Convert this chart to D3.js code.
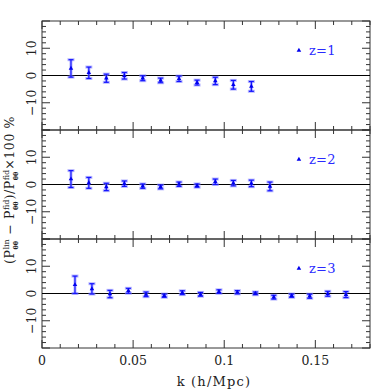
<!DOCTYPE html>
<html><head><meta charset="utf-8">
<script src="https://cdn.jsdelivr.net/npm/d3@7"></script>
<style>body{margin:0;background:#fff}svg{display:block}</style>
</head><body><svg id="c" width="390" height="390"></svg>
<script>
const xTicks = [0, 0.05, 0.1, 0.15];
const xTickLabels = ["0", "0.05", "0.1", "0.15"];
const yTicks = [-10, 0, 10];
const yTickLabels = ["\u221210", "0", "10"];
const panelLabels = ["z=1", "z=2", "z=3"];

const k1 = [0.0159,0.0257,0.0353,0.0452,0.0553,0.0651,0.0752,0.0851,0.0951,0.1050,0.1149];
const v1 = [2.6,1.0,-1.0,-0.1,-1.0,-1.8,-1.2,-2.6,-2.0,-3.4,-4.0];
const e1 = [3.2,2.1,1.5,1.2,0.9,0.85,1.0,0.9,1.35,1.6,1.8];

const k2 = [0.0159,0.0257,0.0353,0.0452,0.0553,0.0651,0.0752,0.0851,0.0951,0.1050,0.1149,0.1251];
const v2 = [2.0,0.6,-0.9,0.3,-0.6,-0.9,0.1,-0.4,1.0,0.5,0.4,-0.7];
const e2 = [3.1,2.0,1.35,1.0,0.8,0.7,0.8,0.6,1.0,1.0,1.2,1.6];

const k3 = [0.0181,0.0274,0.0373,0.0474,0.0571,0.0671,0.0770,0.0870,0.0971,0.1072,0.1171,0.1272,0.1370,0.1469,0.1568,0.1668];
const v3 = [3.2,1.7,-0.2,1.0,-0.3,-0.8,0.3,-0.3,0.7,0.45,0.05,-1.35,-0.8,-1.0,-0.1,-0.4];
const e3 = [3.2,1.9,1.35,0.9,0.85,0.6,0.7,0.7,0.65,0.6,0.5,0.7,0.6,0.75,0.9,1.1];

const series = [[k1,v1,e1],[k2,v2,e2],[k3,v3,e3]];

const svg = d3.select("#c");
const L = 42, R = 370, T = 21, PH = 109;
const FONT = "DejaVu Serif";
const x = d3.scaleLinear().domain([0, 0.18]).range([L, R]);
const axisCol = "#333";

series.forEach((s, p) => {
  const top = T + p * PH, bot = top + PH;
  const y = d3.scaleLinear().domain([-20, 20]).range([bot, top]);
  const g = svg.append("g");
  g.append("rect").attr("x", L).attr("y", top).attr("width", R - L).attr("height", PH)
    .attr("fill", "none").attr("stroke", axisCol).attr("stroke-width", 1);
  const xt = d3.range(0, 0.1801, 0.01);
  xt.forEach(t => {
    const major = Math.abs(t / 0.05 - Math.round(t / 0.05)) < 1e-6;
    const len = major ? 8 : 4;
    const xx = x(t);
    g.append("line").attr("x1", xx).attr("x2", xx).attr("y1", bot).attr("y2", bot - len).attr("stroke", axisCol);
    g.append("line").attr("x1", xx).attr("x2", xx).attr("y1", top).attr("y2", top + len).attr("stroke", axisCol);
  });
  d3.range(-20, 20.01, 2).forEach(t => {
    const major = t % 10 === 0;
    const len = major ? 8 : 4;
    const yy = y(t);
    g.append("line").attr("x1", L).attr("x2", L + len).attr("y1", yy).attr("y2", yy).attr("stroke", axisCol);
    g.append("line").attr("x1", R).attr("x2", R - len).attr("y1", yy).attr("y2", yy).attr("stroke", axisCol);
  });
  yTicks.forEach((t, i) => {
    g.append("text").attr("transform", `translate(35.5,${y(t)}) rotate(-90)`)
      .attr("text-anchor", "middle").attr("font-family", FONT).attr("font-size", 12.5)
      .attr("fill", "#222").text(yTickLabels[i]);
  });
  g.append("line").attr("x1", L).attr("x2", R).attr("y1", y(0)).attr("y2", y(0))
    .attr("stroke", "#000").attr("stroke-width", 1);
  const [ks, vs, es] = s;
  const pts = ks.map((k, i) => ({k, v: vs[i], e: es[i]}));
  const drawBars = (col, w, cap, op) => {
    pts.forEach(d => {
      const xx = x(d.k), y1 = y(d.v - d.e), y2 = y(d.v + d.e);
      g.append("line").attr("x1", xx).attr("x2", xx).attr("y1", y1).attr("y2", y2)
        .attr("stroke", col).attr("stroke-width", w).attr("opacity", op);
      [y1, y2].forEach(yy => g.append("line").attr("x1", xx - cap).attr("x2", xx + cap)
        .attr("y1", yy).attr("y2", yy).attr("stroke", col).attr("stroke-width", w).attr("opacity", op));
    });
  };
  drawBars("#8a8aff", 3, 3.5, 0.6);
  drawBars("#1414ff", 1.2, 2.5, 1);
  const tri = d3.symbol().type(d3.symbolTriangle).size(9);
  pts.forEach(d => {
    g.append("path").attr("d", tri).attr("transform", `translate(${x(d.k)},${y(d.v)})`).attr("fill", "#0000ee");
  });
  const ly = y(9.2);
  g.append("path").attr("d", tri).attr("transform", `translate(${x(0.141)},${ly})`).attr("fill", "#0000ee");
  g.append("text").attr("x", x(0.1465)).attr("y", ly + 4.5).attr("font-family", FONT)
    .attr("font-size", 13).attr("letter-spacing", 0.3).attr("fill", "#2a2aff").text(panelLabels[p]);
});

const bottom = T + 3 * PH;
xTicks.forEach((t, i) => {
  svg.append("text").attr("x", x(t)).attr("y", bottom + 17).attr("text-anchor", "middle")
    .attr("font-family", FONT).attr("font-size", 12.5).attr("fill", "#222").text(xTickLabels[i]);
});
svg.append("text").attr("x", 214).attr("y", 386).attr("text-anchor", "middle")
  .attr("font-family", FONT).attr("font-size", 13).attr("letter-spacing", 1.2).attr("fill", "#222").text("k (h/Mpc)");

const tg = svg.append("g").attr("transform", "translate(14,190) rotate(-90)");
const pieces = [
  {t: "(P", s: 12.5, dy: 0},
  {t: "lin", s: 8, dy: -5, stackStart: true},
  {t: "θθ", s: 6.5, dy: 3.5, bold: true, stackSecond: true},
  {t: " \u2212 P", s: 12.5, dy: 0},
  {t: "fid", s: 8, dy: -5, stackStart: true},
  {t: "θθ", s: 6.5, dy: 3.5, bold: true, stackSecond: true},
  {t: ")/P", s: 12.5, dy: 0},
  {t: "fid", s: 8, dy: -5, stackStart: true},
  {t: "θθ", s: 6.5, dy: 3.5, bold: true, stackSecond: true},
  {t: "\u00d7100 %", s: 12.5, dy: 0}
];
let cx = 0, stackX = 0, stackW = 0;
const els = [];
pieces.forEach(pc => {
  const el = tg.append("text").attr("font-family", FONT).attr("font-size", pc.s)
    .attr("font-weight", pc.bold ? "bold" : "normal").attr("fill", "#222").attr("y", pc.dy)
    .attr("letter-spacing", pc.s > 10 ? 0.6 : 0).style("white-space", "pre").text(pc.t);
  const w = el.node().getComputedTextLength();
  if (pc.stackStart) { stackX = cx; stackW = w; el.attr("x", cx); cx += w; }
  else if (pc.stackSecond) { el.attr("x", stackX); cx = stackX + Math.max(stackW, w); }
  else { el.attr("x", cx); cx += w; }
  els.push(el);
});
els.forEach(el => el.attr("x", +el.attr("x") - cx / 2));
</script></body></html>
